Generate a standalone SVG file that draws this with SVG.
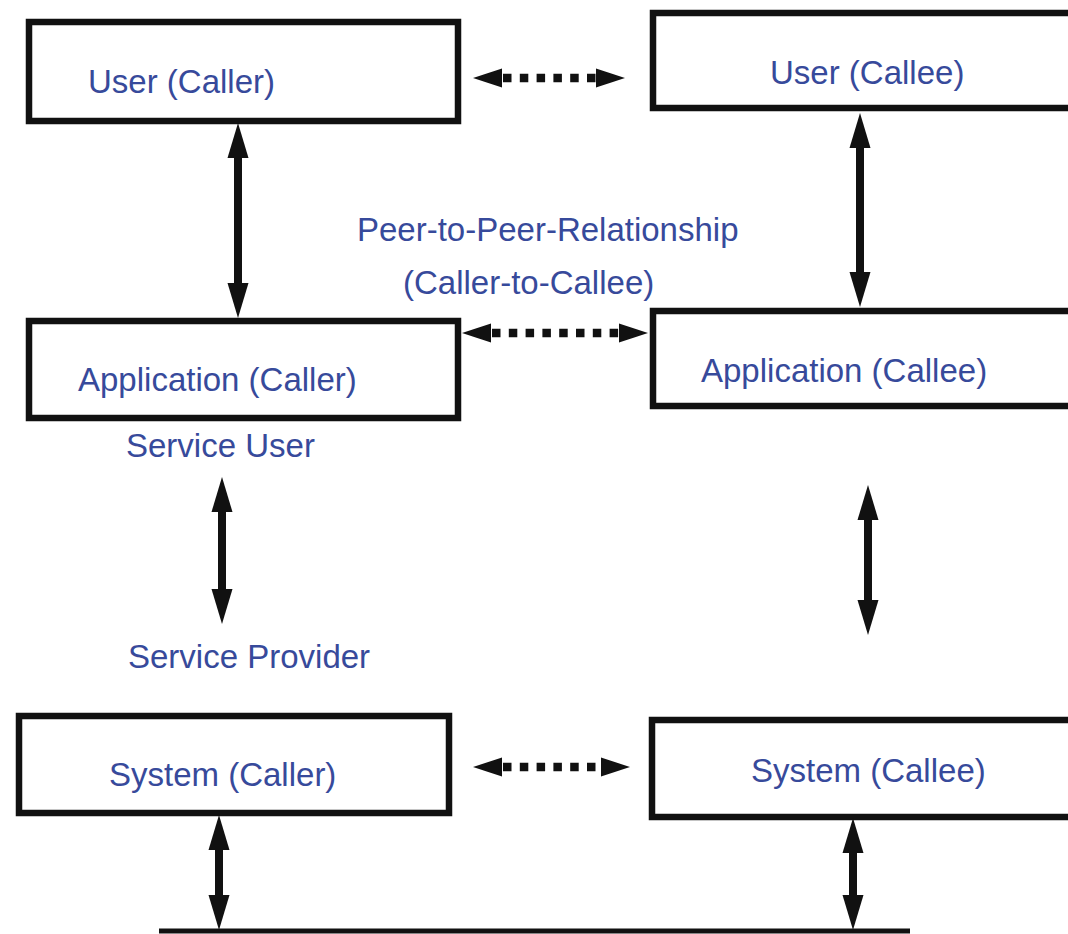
<svg xmlns="http://www.w3.org/2000/svg" width="1068" height="934" viewBox="0 0 1068 934">
<style>
.box{fill:#fff;stroke:#111;stroke-width:6.5}
.t{font-family:"Liberation Sans",Arial,sans-serif;font-size:33px;fill:#374a9b}
.shaft{stroke:#111;stroke-width:8;fill:none}
.dash{stroke:#111;stroke-width:8.5;fill:none;stroke-dasharray:8.5 8.3}
.head{fill:#111}
.base{stroke:#111;stroke-width:5;fill:none}
</style>
<rect width="1068" height="934" fill="#fff"/>
<g id="user-caller"><rect class="box" x="29" y="22" width="429" height="99"/><text class="t" x="88" y="93">User (Caller)</text></g>
<g id="user-callee"><rect class="box" x="653" y="13" width="430" height="95"/><text class="t" x="770" y="84">User (Callee)</text></g>
<g id="app-caller"><rect class="box" x="29" y="321" width="429" height="97"/><text class="t" x="78" y="391">Application (Caller)</text></g>
<g id="app-callee"><rect class="box" x="653" y="311" width="430" height="95"/><text class="t" x="701" y="382">Application (Callee)</text></g>
<g id="sys-caller"><rect class="box" x="19" y="716" width="430" height="97"/><text class="t" x="109" y="786">System (Caller)</text></g>
<g id="sys-callee"><rect class="box" x="652" y="720" width="430" height="97"/><text class="t" x="751" y="782">System (Callee)</text></g>
<g id="labels">
<text class="t" x="357" y="241">Peer-to-Peer-Relationship</text>
<text class="t" x="403" y="294">(Caller-to-Callee)</text>
<text class="t" x="126" y="457">Service User</text>
<text class="t" x="128" y="668">Service Provider</text>
</g>
<g id="connectors">
<!-- vertical arrows -->
<line class="shaft" x1="238" y1="150" x2="238" y2="292"/>
<polygon class="head" points="238,123 227.5,158 248.5,158"/>
<polygon class="head" points="238,318 227.5,283 248.5,283"/>
<line class="shaft" x1="860" y1="140" x2="860" y2="280"/>
<polygon class="head" points="860,113 849.5,148 870.5,148"/>
<polygon class="head" points="860,307 849.5,272 870.5,272"/>
<line class="shaft" x1="222" y1="505" x2="222" y2="596"/>
<polygon class="head" points="222,477 211.5,512 232.5,512"/>
<polygon class="head" points="222,624 211.5,589 232.5,589"/>
<line class="shaft" x1="868" y1="512" x2="868" y2="608"/>
<polygon class="head" points="868,485 857.5,520 878.5,520"/>
<polygon class="head" points="868,635 857.5,600 878.5,600"/>
<line class="shaft" x1="219" y1="842" x2="219" y2="903"/>
<polygon class="head" points="219,815 208.5,850 229.5,850"/>
<polygon class="head" points="219,930 208.5,895 229.5,895"/>
<line class="shaft" x1="853" y1="845" x2="853" y2="903"/>
<polygon class="head" points="853,818 842.5,853 863.5,853"/>
<polygon class="head" points="853,930 842.5,895 863.5,895"/>
<!-- dashed horizontal arrows -->
<line class="dash" x1="503" y1="78" x2="596" y2="78"/>
<polygon class="head" points="473,78 502,68.5 502,87.5"/>
<polygon class="head" points="625,78 596,68.5 596,87.5"/>
<line class="dash" x1="492" y1="333" x2="619" y2="333"/>
<polygon class="head" points="462,333 491,323.5 491,342.5"/>
<polygon class="head" points="648,333 619,323.5 619,342.5"/>
<line class="dash" x1="503" y1="767" x2="601" y2="767"/>
<polygon class="head" points="473,767 502,757.5 502,776.5"/>
<polygon class="head" points="630,767 601,757.5 601,776.5"/>
<line class="base" x1="159" y1="931" x2="910" y2="931"/>
</g>
</svg>
